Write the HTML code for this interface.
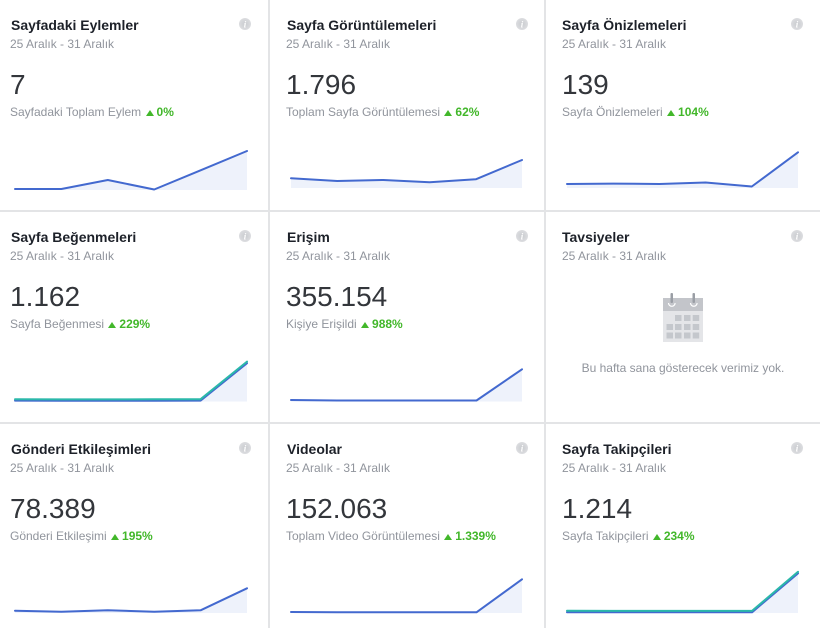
<!DOCTYPE html>
<html>
<head>
<meta charset="utf-8">
<style>
  html,body{margin:0;padding:0;background:#fff;}
  body{width:820px;height:628px;position:relative;overflow:hidden;font-family:"Liberation Sans",Arial,sans-serif;}
  .t{position:absolute;white-space:nowrap;}
  .title{font-size:14px;line-height:14px;font-weight:bold;color:#1d2129;}
  .date{font-size:12px;line-height:12px;color:#90949c;}
  .num{font-size:28px;line-height:28px;color:#33363b;}
  .sub{font-size:12px;line-height:12px;color:#90949c;}
  .sub b{color:#42b72a;font-weight:bold;}
  .tri{display:inline-block;width:0;height:0;border-left:4px solid transparent;border-right:4px solid transparent;border-bottom:6px solid #42b72a;margin:0 3px 0 1px;vertical-align:0px;}
  .vl{position:absolute;top:0;width:2px;height:628px;background:#e3e4e6;}
  .hl{position:absolute;left:0;height:2px;width:820px;background:#e3e4e6;}
  .empty{position:absolute;font-size:12px;line-height:12px;color:#90949c;white-space:nowrap;}
</style>
</head>
<body>
<div class="vl" style="left:268px"></div>
<div class="vl" style="left:544px"></div>
<div class="hl" style="top:210px"></div>
<div class="hl" style="top:422px"></div>

<svg width="820" height="628" style="position:absolute;left:0;top:0">
  <defs>
    <radialGradient id="ig" cx="50%" cy="50%" r="50%">
      <stop offset="0%" stop-color="#c9cbcf"/>
      <stop offset="100%" stop-color="#dcdde0"/>
    </radialGradient>
  </defs>
  <!-- info icons -->
  <g font-family="Liberation Serif, serif" font-style="italic" font-weight="bold" font-size="9" fill="#fff" text-anchor="middle">
    <circle cx="245" cy="24" r="6" fill="url(#ig)"/><text x="245" y="27.5">i</text>
    <circle cx="522" cy="24" r="6" fill="url(#ig)"/><text x="522" y="27.5">i</text>
    <circle cx="797" cy="24" r="6" fill="url(#ig)"/><text x="797" y="27.5">i</text>
    <circle cx="245" cy="236" r="6" fill="url(#ig)"/><text x="245" y="239.5">i</text>
    <circle cx="522" cy="236" r="6" fill="url(#ig)"/><text x="522" y="239.5">i</text>
    <circle cx="797" cy="236" r="6" fill="url(#ig)"/><text x="797" y="239.5">i</text>
    <circle cx="245" cy="448" r="6" fill="url(#ig)"/><text x="245" y="451.5">i</text>
    <circle cx="522" cy="448" r="6" fill="url(#ig)"/><text x="522" y="451.5">i</text>
    <circle cx="797" cy="448" r="6" fill="url(#ig)"/><text x="797" y="451.5">i</text>
  </g>

  <g fill="#eef2fb" stroke="none">
    <polygon points="15,189 61.4,189 107.8,180 154.2,189.5 200.6,170.3 247,151 247,190 15,190"/>
    <polygon points="291,178.3 337.2,181 383.4,180 429.6,182.3 475.8,179.3 522,160 522,188 291,188"/>
    <polygon points="567,184 613.2,183.6 659.4,184 705.6,182.5 751.8,186.5 798,152.3 798,188 567,188"/>
    <polygon points="15,400 200.6,400 247,362 247,401.5 15,401.5"/>
    <polygon points="291,400 476.5,400.5 522,369.3 522,401.5 291,401.5"/>
    <polygon points="15,610.7 61.4,611.7 107.8,610.3 154.2,611.7 200.6,610.3 247,588.3 247,613 15,613"/>
    <polygon points="291,612 476.5,612.3 522,579.3 522,613 291,613"/>
    <polygon points="567,611 752,611 798,572 798,613 567,613"/>
  </g>

  <g fill="none" stroke="#4369cf" stroke-width="2" stroke-linejoin="round" stroke-linecap="round">
    <polyline points="15,189 61.4,189 107.8,180 154.2,189.5 200.6,170.3 247,151"/>
    <polyline points="291,178.3 337.2,181 383.4,180 429.6,182.3 475.8,179.3 522,160"/>
    <polyline points="567,184 613.2,183.6 659.4,184 705.6,182.5 751.8,186.5 798,152.3"/>
    <polyline points="15,400.6 61.4,400.8 107.8,400.8 154.2,400.7 200.6,400.6 247,363.2"/>
    <polyline points="291,400 337,400.5 383,400.5 430,400.5 476.5,400.5 522,369.3"/>
    <polyline points="15,610.7 61.4,611.7 107.8,610.3 154.2,611.7 200.6,610.3 247,588.3"/>
    <polyline points="291,612 337,612.2 383,612.2 430,612.3 476.5,612.3 522,579.3"/>
    <polyline points="567,612.2 613,612.3 659,612.3 706,612.3 752,612.3 798,573.3"/>
  </g>
  <g fill="none" stroke="#2bb8aa" stroke-width="2" stroke-linejoin="round" stroke-linecap="round">
    <polyline points="15,399.2 61.4,399.4 107.8,399.4 154.2,399.3 200.6,399.2 247,361.6"/>
    <polyline points="567,610.8 613,610.9 659,610.9 706,610.9 752,610.9 798,571.8"/>
  </g>

  <!-- calendar icon -->
  <g>
    <rect x="663" y="298" width="40" height="44" fill="#e4e5e8"/>
    <rect x="663" y="298" width="40" height="13" fill="#c3c5ca"/>
    <rect x="670.5" y="293" width="2.5" height="10" rx="1" fill="#9a9ea5"/>
    <rect x="692.5" y="293" width="2.5" height="10" rx="1" fill="#9a9ea5"/>
    <path d="M668.5 303 a3.3 3.3 0 0 0 6.6 0" fill="none" stroke="#fff" stroke-width="1.2"/>
    <path d="M690.5 303 a3.3 3.3 0 0 0 6.6 0" fill="none" stroke="#fff" stroke-width="1.2"/>
    <g fill="#c4c7cc">
      <rect x="675" y="315" width="6.5" height="6"/>
      <rect x="684" y="315" width="6.5" height="6"/>
      <rect x="692.7" y="315" width="6.5" height="6"/>
      <rect x="666.5" y="324" width="6.5" height="6"/>
      <rect x="675" y="324" width="6.5" height="6"/>
      <rect x="684" y="324" width="6.5" height="6"/>
      <rect x="692.7" y="324" width="6.5" height="6"/>
      <rect x="666.5" y="332.5" width="6.5" height="6"/>
      <rect x="675" y="332.5" width="6.5" height="6"/>
      <rect x="684" y="332.5" width="6.5" height="6"/>
      <rect x="692.7" y="332.5" width="6.5" height="6"/>
    </g>
  </g>
</svg>

<!-- Row 1 -->
<div class="t title" style="left:11px;top:18px">Sayfadaki Eylemler</div>
<div class="t date" style="left:10px;top:38px">25 Aralık - 31 Aralık</div>
<div class="t num" style="left:10px;top:71px">7</div>
<div class="t sub" style="left:10px;top:106px">Sayfadaki Toplam Eylem <span class="tri"></span><b>0%</b></div>

<div class="t title" style="left:287px;top:18px">Sayfa Görüntülemeleri</div>
<div class="t date" style="left:286px;top:38px">25 Aralık - 31 Aralık</div>
<div class="t num" style="left:286px;top:71px">1.796</div>
<div class="t sub" style="left:286px;top:106px">Toplam Sayfa Görüntülemesi <span class="tri"></span><b>62%</b></div>

<div class="t title" style="left:562px;top:18px">Sayfa Önizlemeleri</div>
<div class="t date" style="left:562px;top:38px">25 Aralık - 31 Aralık</div>
<div class="t num" style="left:562px;top:71px">139</div>
<div class="t sub" style="left:562px;top:106px">Sayfa Önizlemeleri <span class="tri"></span><b>104%</b></div>

<!-- Row 2 -->
<div class="t title" style="left:11px;top:230px">Sayfa Beğenmeleri</div>
<div class="t date" style="left:10px;top:250px">25 Aralık - 31 Aralık</div>
<div class="t num" style="left:10px;top:283px">1.162</div>
<div class="t sub" style="left:10px;top:318px">Sayfa Beğenmesi <span class="tri"></span><b>229%</b></div>

<div class="t title" style="left:287px;top:230px">Erişim</div>
<div class="t date" style="left:286px;top:250px">25 Aralık - 31 Aralık</div>
<div class="t num" style="left:286px;top:283px">355.154</div>
<div class="t sub" style="left:286px;top:318px">Kişiye Erişildi <span class="tri"></span><b>988%</b></div>

<div class="t title" style="left:562px;top:230px">Tavsiyeler</div>
<div class="t date" style="left:562px;top:250px">25 Aralık - 31 Aralık</div>
<div class="empty" style="left:546px;width:274px;text-align:center;top:362px">Bu hafta sana gösterecek verimiz yok.</div>

<!-- Row 3 -->
<div class="t title" style="left:11px;top:442px">Gönderi Etkileşimleri</div>
<div class="t date" style="left:10px;top:462px">25 Aralık - 31 Aralık</div>
<div class="t num" style="left:10px;top:495px">78.389</div>
<div class="t sub" style="left:10px;top:530px">Gönderi Etkileşimi <span class="tri"></span><b>195%</b></div>

<div class="t title" style="left:287px;top:442px">Videolar</div>
<div class="t date" style="left:286px;top:462px">25 Aralık - 31 Aralık</div>
<div class="t num" style="left:286px;top:495px">152.063</div>
<div class="t sub" style="left:286px;top:530px">Toplam Video Görüntülemesi <span class="tri"></span><b>1.339%</b></div>

<div class="t title" style="left:562px;top:442px">Sayfa Takipçileri</div>
<div class="t date" style="left:562px;top:462px">25 Aralık - 31 Aralık</div>
<div class="t num" style="left:562px;top:495px">1.214</div>
<div class="t sub" style="left:562px;top:530px">Sayfa Takipçileri <span class="tri"></span><b>234%</b></div>
</body>
</html>
